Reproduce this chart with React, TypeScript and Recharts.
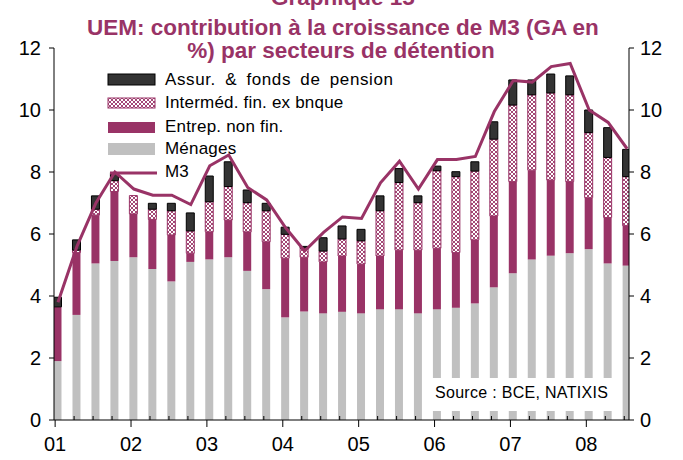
import React from 'react';
import { ComposedChart, Bar, Line, XAxis, YAxis } from 'recharts';

// quarters 2001T1 .. 2008T3
const quarters: string[] = [];
for (let y = 1; y <= 8; y++) {
  for (let q = 1; q <= 4; q++) {
    if (y === 8 && q === 4) break;
    quarters.push(`200${y}T${q}`);
  }
}

const yearLabels = ['01', '02', '03', '04', '05', '06', '07', '08'];
const yTicks = [0, 2, 4, 6, 8, 10, 12];

const menages = [1.9, 3.39, 5.05, 5.13, 5.25, 4.87, 4.47, 5.1, 5.18, 5.25, 4.81, 4.22, 3.31, 3.5, 3.44, 3.49, 3.44, 3.57, 3.57, 3.44, 3.57, 3.62, 3.76, 4.28, 4.73, 5.18, 5.3, 5.38, 5.51, 5.05, 4.98];
const entreprises = [1.75, 2.01, 1.56, 2.24, 1.4, 1.6, 1.5, 0.28, 0.89, 1.2, 1.26, 1.53, 1.91, 1.75, 1.66, 1.8, 1.59, 1.72, 1.91, 2.04, 1.97, 1.78, 2.05, 2.3, 2.96, 2.88, 2.44, 2.31, 1.66, 1.48, 1.29];
const intermediaires = [0, 0.08, 0.19, 0.35, 0.59, 0.33, 0.78, 0.72, 0.97, 1.08, 0.94, 1.0, 0.77, 0.3, 0.35, 0.55, 0.75, 1.46, 2.18, 1.53, 2.5, 2.45, 2.22, 2.48, 2.47, 2.43, 2.81, 2.8, 2.1, 1.94, 1.58];
const assurances = [0.31, 0.33, 0.43, 0.26, 0, 0.19, 0.24, 0.58, 0.83, 0.8, 0.41, 0.24, 0.23, 0.05, 0.43, 0.42, 0.37, 0.48, 0.45, 0.22, 0.15, 0.16, 0.3, 0.56, 0.81, 0.48, 0.61, 0.61, 0.73, 0.96, 0.88];
const m3 = [3.8, 5.6, 7.0, 8.0, 7.45, 7.25, 7.25, 6.95, 8.2, 8.55, 7.5, 7.1, 6.2, 5.45, 6.05, 6.55, 6.5, 7.65, 8.35, 7.45, 8.4, 8.4, 8.5, 9.95, 10.95, 10.9, 11.4, 11.5, 10.0, 9.6, 8.75];

const data = quarters.map((name, i) => ({
  name,
  x: i,
  menages: menages[i],
  entreprises: entreprises[i],
  intermediaires: intermediaires[i],
  assurances: assurances[i],
  m3: m3[i],
}));

const xTicks = quarters.map((_, i) => i - 0.15);

const PLUM = '#993366';
const GREY = '#c0c0c0';
const FONT = '"Liberation Sans", Arial, sans-serif';

const XTick = (props: any) => {
  const { x, y, payload } = props;
  const q = Math.round(payload.value + 0.15);
  const major = q % 4 === 0;
  return (
    <g>
      <line x1={x} x2={x} y1={y} y2={major ? y + 7 : y - 4} stroke="#000" strokeWidth={1} />
      {major && (
        <text x={x} y={y + 31} textAnchor="middle" fontSize={20} fontFamily={FONT} fill="#000">
          {yearLabels[q / 4]}
        </text>
      )}
    </g>
  );
};

const App: React.FC = () => {
  return (
    <div style={{ position: 'absolute', left: 0, top: 0, width: 683, height: 460, background: '#fff' }}>
      <ComposedChart width={683} height={460} data={data} margin={{ top: 48, right: 53, bottom: 39, left: 53 }}>
        <XAxis
          dataKey="x"
          type="number"
          domain={[-0.21, 30.1]}
          allowDataOverflow
          ticks={xTicks}
          interval={0}
          height={1}
          tickSize={0}
          tickMargin={0}
          tickLine={false}
          axisLine={{ stroke: '#000' }}
          tick={<XTick />}
        />
        <YAxis
          yAxisId="left"
          orientation="left"
          width={1}
          domain={[0, 12]}
          ticks={yTicks}
          interval={0}
          tickSize={5}
          tickMargin={8}
          axisLine={{ stroke: '#000' }}
          tickLine={{ stroke: '#000' }}
          tick={{ fill: '#000', fontSize: 20, fontFamily: FONT }}
        />
        <YAxis
          yAxisId="right"
          orientation="right"
          width={1}
          domain={[0, 12]}
          ticks={yTicks}
          interval={0}
          tickSize={5}
          tickMargin={6}
          axisLine={{ stroke: '#000' }}
          tickLine={{ stroke: '#000' }}
          tick={{ fill: '#000', fontSize: 20, fontFamily: FONT }}
        />
        <Bar yAxisId="left" dataKey="menages" stackId="a" fill={GREY} barSize={8} isAnimationActive={false} />
        <Bar yAxisId="left" dataKey="entreprises" stackId="a" fill={PLUM} barSize={8} isAnimationActive={false} />
        <Bar yAxisId="left" dataKey="intermediaires" stackId="a" fill="url(#hatch)" stroke={PLUM} strokeWidth={1} barSize={8} isAnimationActive={false} />
        <Bar yAxisId="left" dataKey="assurances" stackId="a" fill="#333333" stroke="#000" strokeWidth={1} barSize={8} isAnimationActive={false} />
        <Line yAxisId="right" dataKey="m3" type="linear" stroke={PLUM} strokeWidth={3} dot={false} isAnimationActive={false} />
      </ComposedChart>

      <svg width={683} height={460} style={{ position: 'absolute', left: 0, top: 0, pointerEvents: 'none' }} fontFamily={FONT}>
        <defs>
          <pattern id="hatch" width={4} height={4} patternUnits="userSpaceOnUse">
            <rect width={4} height={4} fill="#fff" />
            <path d="M0,0 L4,4 M4,0 L0,4" stroke={PLUM} strokeWidth={0.9} />
          </pattern>
        </defs>

        <g fill={PLUM} fontWeight="bold" fontSize={22.5} textAnchor="middle">
          <text x={343} y={5}>Graphique 15</text>
          <text x={343} y={35}>UEM: contribution à la croissance de M3 (GA en</text>
          <text x={341} y={58}>%) par secteurs de détention</text>
        </g>

        <g fontSize={17} letterSpacing={0.2} fill="#000">
          <rect x={108} y={74} width={47} height={11} fill="#333333" stroke="#000" />
          <text x={165} y={85} letterSpacing={0.6} wordSpacing={4}>Assur. &amp; fonds de pension</text>
          <rect x={108} y={98} width={47} height={10} fill="url(#hatch)" stroke={PLUM} />
          <text x={165} y={108}>Interméd. fin. ex bnque</text>
          <rect x={108} y={122} width={47} height={11} fill={PLUM} />
          <text x={165} y={132}>Entrep. non fin.</text>
          <rect x={108} y={143} width={47} height={12} fill={GREY} />
          <text x={165} y={154}>Ménages</text>
          <line x1={110} x2={157} y1={173} y2={173} stroke={PLUM} strokeWidth={3} />
          <text x={165} y={177}>M3</text>
        </g>

        <rect x={428} y={378} width={192} height={33} fill="#fff" />
        <text x={435} y={398} fontSize={16} letterSpacing={0.3} fill="#000">Source :  BCE, NATIXIS</text>
      </svg>
    </div>
  );
};

export default App;
